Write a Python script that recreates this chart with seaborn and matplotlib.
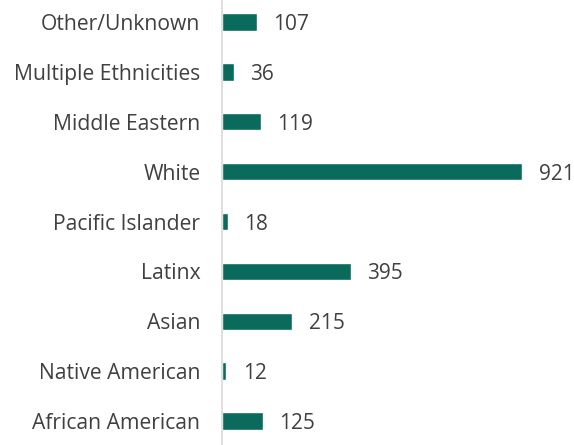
import matplotlib
matplotlib.use("Agg")
import matplotlib.pyplot as plt
import seaborn as sns
import pandas as pd

categories = ["Other/Unknown", "Multiple Ethnicities", "Middle Eastern", "White",
              "Pacific Islander", "Latinx", "Asian", "Native American", "African American"]
values = [107, 36, 119, 921, 18, 395, 215, 12, 125]

sns.set_theme(style="white")
plt.rcParams['font.family'] = ['Open Sans', 'DejaVu Sans']

df = pd.DataFrame({"cat": categories, "val": values})
fig = plt.figure(figsize=(5.74, 4.45), dpi=100)
ax = fig.add_axes([222/574, 0, 1 - 222/574, 1])
sns.barplot(data=df, y="cat", x="val", orient="h", color="#0a6b5d",
            width=0.35, saturation=1, ax=ax)

ax.set_xlim(0, 921 * 352 / 300)
ax.set_ylim(8.48, -0.44)
ax.set_xlabel("")
ax.set_ylabel("")
ax.set_xticks([])
for s in ["top", "right", "bottom"]:
    ax.spines[s].set_visible(False)
ax.spines["left"].set_color("#d9d9d9")
ax.spines["left"].set_linewidth(1.2)
ax.tick_params(axis="y", length=0, pad=15.5, labelsize=15.2, labelcolor="#404040")

for i, v in enumerate(values):
    ax.annotate(str(v), xy=(v, i), xytext=(12, 0), textcoords="offset points",
                va="center_baseline", ha="left", fontsize=15, color="#404040")

fig.savefig("out.png", dpi=100)
